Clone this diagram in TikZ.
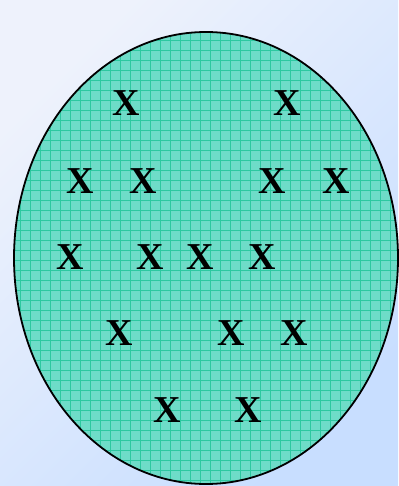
\documentclass[tikz,border=0pt]{standalone}
\usepackage{fontspec}
\setmainfont{Liberation Serif}
\tikzset{
  xmark/.style={font=\fontsize{38}{38}\selectfont\bfseries, inner sep=0pt, text=black},
  gridline/.style={gridT, line width=0.6pt},
}
\definecolor{bgA}{RGB}{238,242,252}
\definecolor{bgB}{RGB}{200,222,255}
\definecolor{fillT}{RGB}{110,220,200}
\definecolor{gridT}{RGB}{45,200,160}
\begin{document}
\begin{tikzpicture}[x=1pt,y=-1pt]
\useasboundingbox (0,0) rectangle (398,486);
\shade[shading=axis, left color=bgA, right color=bgB, shading angle=45] (0,0) rectangle (398,486);
\begin{scope}
\clip (206,258) ellipse [x radius=192, y radius=226];
\fill[fillT] (0,0) rectangle (398,486);
\foreach \i in {0,10,...,400} {\draw[gridline] (\i,0) -- (\i,490);}
\foreach \j in {0,10,...,490} {\draw[gridline] (0,\j) -- (400,\j);}
\end{scope}
\draw[black, line width=1.8pt] (206,258) ellipse [x radius=192, y radius=226];
\node[xmark] (a1) at (126,103) {X};
\node[xmark] (a2) at (287,103) {X};
\node[xmark] (b1) at (80,181) {X};
\node[xmark] (b2) at (143,181) {X};
\node[xmark] (b3) at (272,181) {X};
\node[xmark] (b4) at (336,181) {X};
\node[xmark] (c1) at (70,257) {X};
\node[xmark] (c2) at (150,257) {X};
\node[xmark] (c3) at (200,257) {X};
\node[xmark] (c4) at (262,257) {X};
\node[xmark] (d1) at (119,333) {X};
\node[xmark] (d2) at (231,333) {X};
\node[xmark] (d3) at (294,333) {X};
\node[xmark] (e1) at (167,410) {X};
\node[xmark] (e2) at (248,410) {X};
\end{tikzpicture}
\end{document}
